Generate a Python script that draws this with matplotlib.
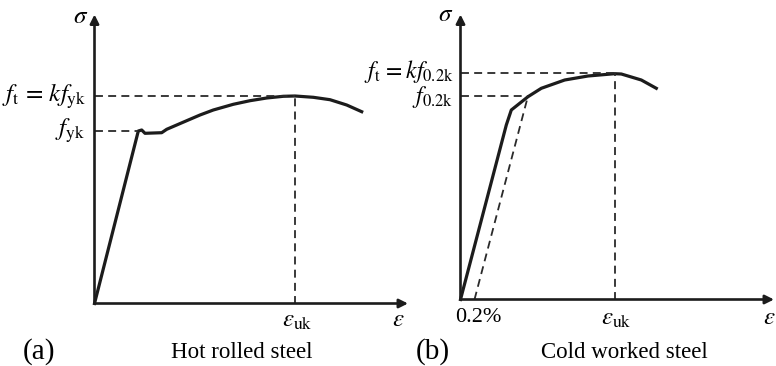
import matplotlib
matplotlib.use("Agg")
from matplotlib import pyplot as plt

plt.rcParams['font.family'] = ['Liberation Serif', 'DejaVu Serif']
plt.rcParams['mathtext.fontset'] = 'stix'

# stress-strain curves (arbitrary units)
eps_hot = [0, 43.8, 47.2, 50.5, 67.2, 72.2, 82.2, 92.2, 105.5, 118.8, 138.8,
           155.5, 172.2, 188.8, 200.5, 218.8, 235.5, 252.2, 267.2]
sig_hot = [0, 172.5, 173.5, 170.2, 170.8, 174.2, 178.5, 182.8, 188.5, 193.5,
           199.2, 202.8, 205.5, 207.2, 207.5, 206.2, 203.8, 198.5, 191.8]
fyk, ft_hot, euk_hot = 172.5, 207.5, 200.5

eps_cold = [0, 45.8, 50.8, 67.5, 80.8, 104.2, 127.5, 154.2, 160.8, 180.8, 195.8]
sig_cold = [0, 174.5, 189.5, 202.8, 211.2, 219.5, 223.5, 225.8, 225.5, 219.5, 211.2]
f02k, ft_cold, euk_cold = 203.5, 226.8, 154.2
offset_eps = [14.0, 67.5]   # 0.2% offset line
offset_sig = [0, 203.5]

W, H = 776, 366
fig = plt.figure(figsize=(W / 100, H / 100), dpi=100)

lc = '#1c1c1c'
dash = dict(color='#2a2a2a', lw=1.3, ls=(0, (4.4, 2.9)))
fs = 18


def panel(ox, oy, w, h):
    # axes placed so that 1 data unit = 1 pixel, origin at (ox, oy)
    ax = fig.add_axes([ox / W, (H - oy) / H, w / W, h / H])
    ax.set_xlim(0, w)
    ax.set_ylim(0, h)
    ax.axis('off')
    arr = dict(arrowstyle='-|>', lw=1.9, color=lc, mutation_scale=13,
               shrinkA=0, shrinkB=0)
    ax.annotate('', xy=(w, 0), xytext=(0, 0), arrowprops=arr, annotation_clip=False)
    ax.annotate('', xy=(0, h), xytext=(0, 0), arrowprops=arr, annotation_clip=False)
    return ax


# (a) hot rolled
ax = panel(94.5, 303.5, 313.5, 289)
ax.plot(eps_hot, sig_hot, color=lc, lw=2.3, solid_joinstyle='round', clip_on=False)
ax.plot([0, euk_hot], [ft_hot, ft_hot], **dash)
ax.plot([euk_hot, euk_hot], [0, ft_hot], **dash)
ax.plot([0, 43.8], [fyk, fyk], **dash)
ax.text(-13.5, 286.5, r'$\sigma$', fontsize=fs, ha='center', va='center')
ax.text(-8, ft_hot, r'$f_{\rm t}\,=\,kf_{\rm yk}$', fontsize=fs, ha='right', va='center')
ax.text(-9, fyk, r'$f_{\rm yk}$', fontsize=fs, ha='right', va='center')
ax.text(euk_hot + 2.5, -18, r'$\varepsilon_{\rm uk}$', fontsize=fs, ha='center', va='center')
ax.text(303.5, -16.5, r'$\varepsilon$', fontsize=fs, ha='center', va='center')
ax.text(-55.5, -48, '(a)', fontsize=21, ha='center', va='center')
ax.text(147.5, -49, 'Hot rolled steel', fontsize=16.5, ha='center', va='center')

# (b) cold worked
ax = panel(460.5, 299.5, 313.5, 285)
ax.plot(eps_cold, sig_cold, color=lc, lw=2.3, solid_joinstyle='round', clip_on=False)
ax.plot(offset_eps, offset_sig, **dash)
ax.plot([0, euk_cold], [ft_cold, ft_cold], **dash)
ax.plot([euk_cold, euk_cold], [0, ft_cold], **dash)
ax.plot([0, 67.5], [f02k, f02k], **dash)
ax.text(-14.5, 284.5, r'$\sigma$', fontsize=fs, ha='center', va='center')
ax.text(-7, ft_cold + 1, r'$f_{\rm t}\,=kf_{0.2{\rm k}}$', fontsize=17, ha='right', va='center')
ax.text(-7, f02k - 1, r'$f_{0.2{\rm k}}$', fontsize=17, ha='right', va='center')
ax.text(18, -18.5, '0.2%', fontsize=16, ha='center', va='center')
ax.text(euk_cold + 2, -20, r'$\varepsilon_{\rm uk}$', fontsize=fs, ha='center', va='center')
ax.text(308.5, -18.5, r'$\varepsilon$', fontsize=fs, ha='center', va='center')
ax.text(-27.5, -52, '(b)', fontsize=21, ha='center', va='center')
ax.text(163.5, -53, 'Cold worked steel', fontsize=16.5, ha='center', va='center')

fig.savefig('out.png', dpi=100)
